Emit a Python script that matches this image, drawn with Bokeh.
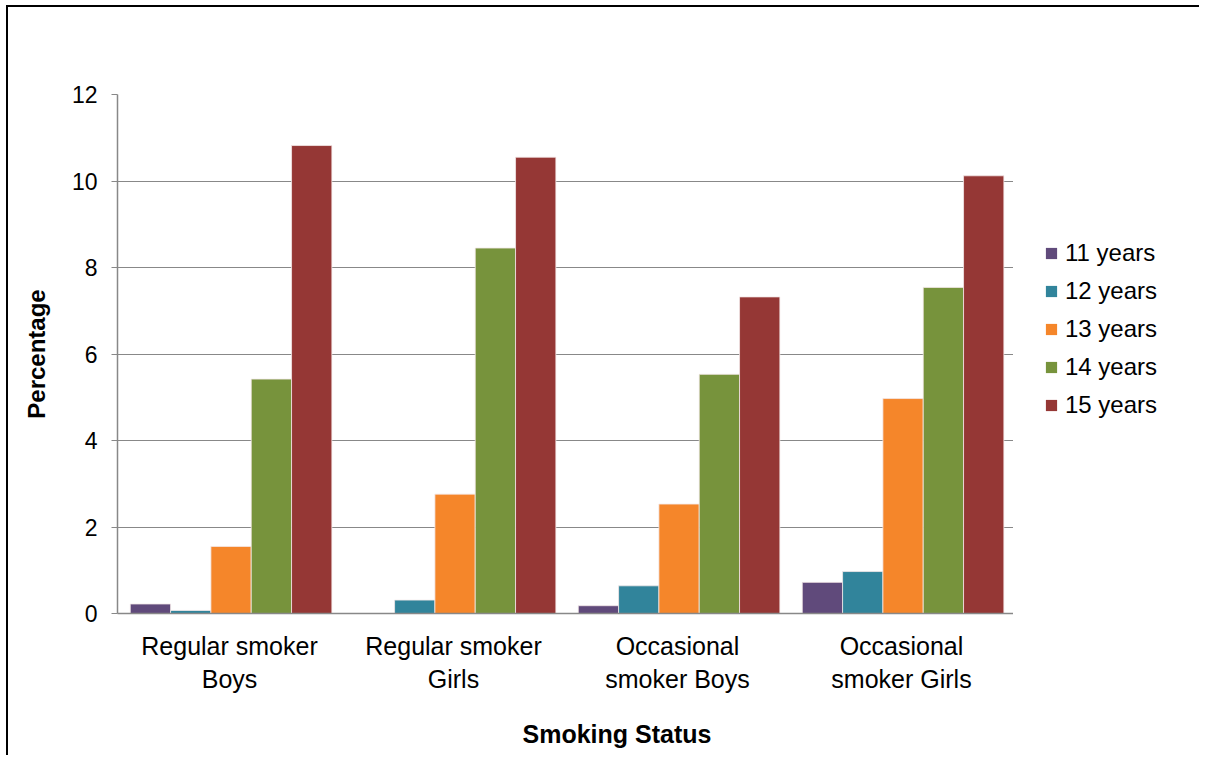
from bokeh.plotting import figure
from bokeh.models import ColumnDataSource, FactorRange, Range1d, SingleIntervalTicker, Title
from bokeh.transform import dodge
from bokeh.layouts import row
from bokeh.embed import file_html
from bokeh.resources import INLINE

categories = ["Regular smoker\nBoys", "Regular smoker\nGirls", "Occasional\nsmoker Boys", "Occasional\nsmoker Girls"]
series_names = ["11 years", "12 years", "13 years", "14 years", "15 years"]
age_11 = [0.22, 0.0, 0.18, 0.72]
age_12 = [0.07, 0.31, 0.64, 0.97]
age_13 = [1.55, 2.76, 2.53, 4.97]
age_14 = [5.42, 8.45, 5.53, 7.54]
age_15 = [10.82, 10.55, 7.32, 10.12]
colors = ["#604A7B", "#31849B", "#F5862A", "#77933C", "#953735"]

FONT = "Liberation Sans"

source = ColumnDataSource(dict(cat=categories, a11=age_11, a12=age_12, a13=age_13, a14=age_14, a15=age_15))
cols = ["a11", "a12", "a13", "a14", "a15"]

p = figure(x_range=FactorRange(*categories, range_padding=0), y_range=Range1d(0, 12),
           width=1005, height=748, output_backend="svg", toolbar_location=None,
           min_border_left=109, min_border_top=87, min_border_right=0, min_border_bottom=20)

bw = 0.18
offsets = [-2 * bw, -bw, 0, bw, 2 * bw]
for col, c, off in zip(cols, colors, offsets):
    p.vbar(x=dodge("cat", off + 0.007, range=p.x_range), top=col, width=bw, source=source,
           fill_color=c, line_color="#f4e8e8", line_width=0.8)

p.outline_line_color = None
p.xgrid.grid_line_color = None
p.ygrid.grid_line_color = "#888888"
p.ygrid.grid_line_width = 1.2

p.yaxis.ticker = SingleIntervalTicker(interval=2)
p.yaxis.minor_tick_line_color = None
p.yaxis.major_tick_out = 6
p.yaxis.major_tick_in = 0
p.yaxis.major_tick_line_color = "#888888"
p.yaxis.axis_line_color = "#888888"
p.yaxis.axis_line_width = 1.5
p.yaxis.major_label_text_font = FONT
p.yaxis.major_label_text_font_size = "23px"
p.yaxis.major_label_text_color = "black"
p.yaxis.major_label_standoff = 14
p.yaxis.axis_label = "Percentage"
p.yaxis.axis_label_text_font = FONT
p.yaxis.axis_label_text_font_size = "24px"
p.yaxis.axis_label_text_font_style = "bold"
p.yaxis.axis_label_text_color = "black"
p.yaxis.axis_label_standoff = 19

p.xaxis.major_tick_line_color = None
p.xaxis.minor_tick_line_color = None
p.xaxis.axis_line_color = "#888888"
p.xaxis.axis_line_width = 1.5
p.xaxis.major_label_text_font = FONT
p.xaxis.major_label_text_font_size = "25px"
p.xaxis.major_label_text_color = "black"
p.xaxis.major_label_standoff = 12
p.xaxis.major_label_text_line_height = 1.2
# small spacer between category labels and the axis title
p.xaxis.axis_label = " "
p.xaxis.axis_label_text_font_size = "5px"
p.xaxis.axis_label_standoff = 5

p.add_layout(Title(text="Smoking Status", text_font=FONT, text_font_size="25px",
                   text_font_style="bold", align="left", offset=405, text_color="black",
                   standoff=15), "below")

# legend panel to the right of the plot area
lf = figure(x_range=Range1d(0, 1), y_range=Range1d(0, 1), width=186, height=748,
            output_backend="svg", toolbar_location=None, x_axis_type=None, y_axis_type=None,
            min_border_left=0, min_border_right=0, min_border_top=0, min_border_bottom=0)
lf.outline_line_color = None
lf.xgrid.grid_line_color = None
lf.ygrid.grid_line_color = None
for col, name, c in zip(cols, series_names, colors):
    lf.vbar(x="cat", top=col, width=bw, source=source, fill_color=c, line_color=None,
            legend_label=name, visible=False)

lg = lf.legend[0]
lg.location = (31, 194)
lg.border_line_color = None
lg.background_fill_alpha = 0
lg.inactive_fill_alpha = 0
lg.padding = 0
lg.margin = 0
lg.spacing = 10
lg.glyph_width = 14
lg.glyph_height = 14
lg.label_height = 24
lg.label_standoff = 7
lg.label_text_font = FONT
lg.label_text_font_size = "24px"
lg.label_text_color = "black"

layout = row(p, lf, spacing=0)
layout.styles = {"border-top": "2px solid black", "border-left": "2px solid black",
                 "margin-left": "6px", "margin-top": "5px"}

open("out.html", "w").write(file_html(layout, INLINE))
